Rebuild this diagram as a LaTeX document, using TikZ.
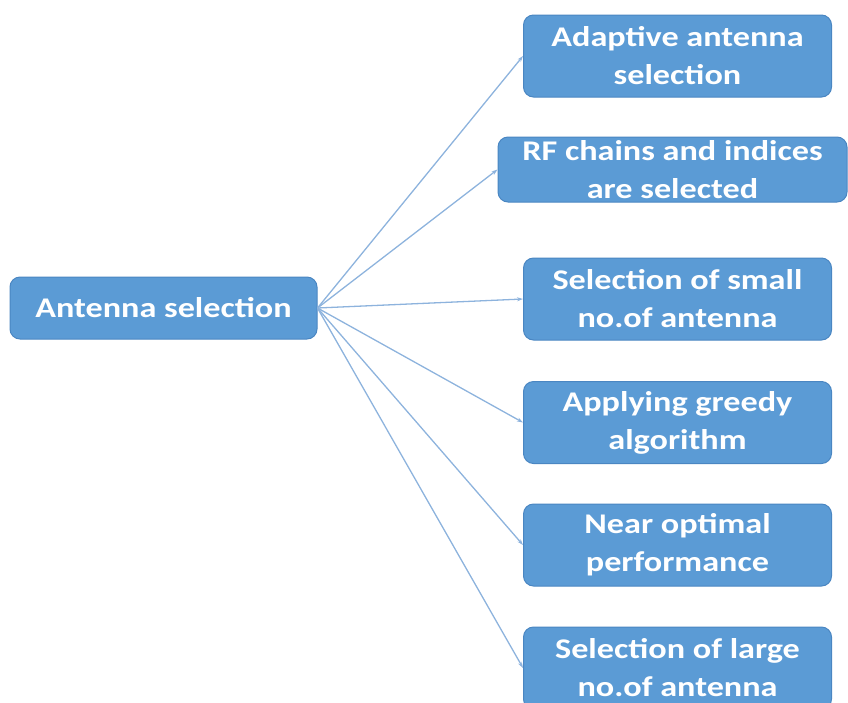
\documentclass[tikz,border=0pt]{standalone}
\usepackage{fontspec}
\setmainfont{Carlito}
\newfontfamily\boxfont[FakeStretch=1.2]{Carlito}
\usepackage{xcolor}
\usetikzlibrary{arrows.meta}

\definecolor{boxblue}{HTML}{5B9BD5}
\definecolor{boxedge}{HTML}{4A86C2}
\definecolor{linkblue}{HTML}{8DB3DD}

\begin{document}
\begin{tikzpicture}[x=1pt, y=-1pt,
      arr/.style={-{Stealth[length=6pt, width=4pt]}, linkblue, line width=1.3pt},
      box/.style={draw=boxedge, line width=1pt, fill=boxblue, rounded corners=10pt,
        text=white, align=center, font=\boxfont\bfseries\fontsize{28.5}{38}\selectfont,
        inner sep=0pt, minimum width=308pt, minimum height=82pt}
    ]

    % ══ frame ═════════════════════════════════════════════════════════════════
    \useasboundingbox (0,0) rectangle (848,702);
    \clip (0,0) rectangle (848,702);

    % root
    \node[box, minimum width=307pt, minimum height=62pt] (antsel) at (163.5, 308)
      {Antenna selection};

    % ══ leaves ════════════════════════════════════════════════════════════════
    \node[box] (adaptive) at (677.5, 56) {Adaptive antenna\\selection};
    \node[box, minimum width=349pt, minimum height=65pt] (rfchains) at (672.5, 169.5)
      {RF chains and indices\\are selected};
    \node[box] (small) at (677.5, 299) {Selection of small\\no.of antenna};
    \node[box] (greedy) at (677.5, 422.5) {Applying greedy\\algorithm};
    \node[box] (nearopt) at (677.5, 545) {Near optimal\\performance};
    \node[box] (large) at (677.5, 668) {Selection of large\\no.of antenna};

    % ══ links ═════════════════════════════════════════════════════════════════
    \foreach \leaf in {adaptive, rfchains, small, greedy, nearopt, large}
      \draw[arr] (antsel.east) -- (\leaf.west);

  \end{tikzpicture}
\end{document}
